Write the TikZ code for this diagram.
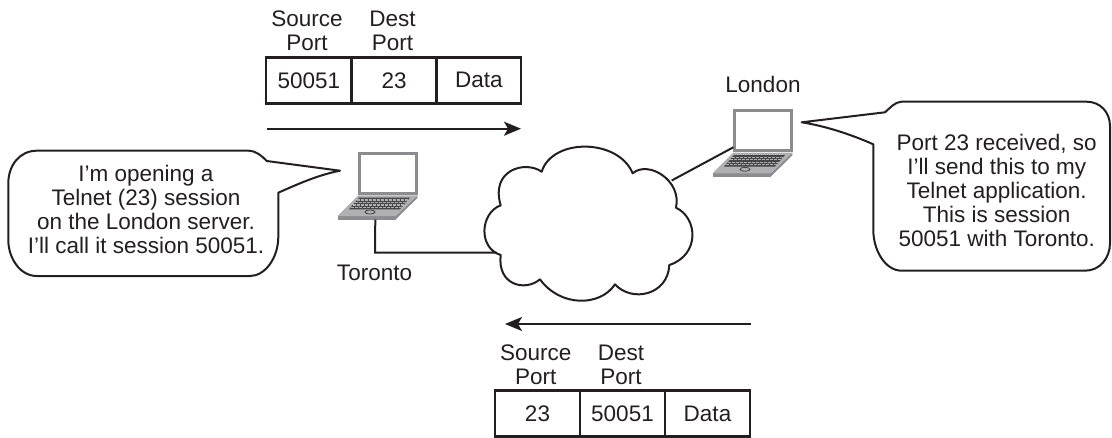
\documentclass[tikz,border=0pt]{standalone}
\usepackage{fontspec}
\setmainfont{Liberation Sans}
\usetikzlibrary{arrows.meta}
\definecolor{ink}{RGB}{35,31,32}
\definecolor{casegrey}{RGB}{140,140,142}
\definecolor{basegrey}{RGB}{176,176,178}
\definecolor{keygrey}{RGB}{70,70,72}
\tikzset{>={Stealth[length=17pt,width=14pt,inset=4pt]}}
\tikzset{
	txt/.style={align=center, inner sep=0pt, text=ink, font=\fontsize{22.5}{24}\selectfont},
	cell/.style={draw=ink, line width=2.5pt, minimum height=46pt, txt},
	link/.style={draw=ink, line width=2pt},
	bubble/.style={draw=ink, line width=2pt, fill=white, line join=round},
	flow/.style={draw=ink, line width=2pt, ->},
	laptop/.pic={
		\filldraw[draw=casegrey, fill=white, line width=3pt](1.5,2.5)--(58.5,2.5)--(58.5,42)--(1.5,42)--cycle;
		\fill[casegrey](-20.7,65)--(37.3,65)--(37.3,68.5)--(-20.7,68.5)--cycle;
		\fill[casegrey](37.3,65)--(59,44.3)--(59,47)--(37.3,68.5)--cycle;
		\fill[basegrey](0,44.3)--(59,44.3)--(37.3,65)--(-20.7,65)--cycle;
		\fill[keygrey](0.7,46.7)--(51.7,46.7)--(41.7,58.3)--(-9.3,58.3)--cycle;
		\draw[basegrey, line width=1.1pt, dash pattern=on 3pt off 1pt](-1.3,49)--(49.7,49);
		\draw[basegrey, line width=1.1pt, dash pattern=on 3pt off 1pt](-3.4,51.5)--(47.6,51.5);
		\draw[basegrey, line width=1.1pt, dash pattern=on 3pt off 1pt](-5.6,54)--(45.4,54);
		\draw[basegrey, line width=1.1pt, dash pattern=on 3pt off 1pt](-7.7,56.5)--(43.3,56.5);
		\draw[keygrey, line width=0.8pt](11.7,61) ellipse (5 and 2);
		\coordinate (-side) at (0,39);
		\coordinate (-foot) at (17,68.5);
	}
}

\begin{document}
\begin{tikzpicture}[x=1pt, y=-1pt]
	\useasboundingbox (0,0) rectangle (1112,437);

	% network
	\draw[bubble](541.7,171.7) .. controls (552,138) and (618,138) .. (632.7,173.3)
		.. controls (648,160) and (682,180) .. (676,207.7)
		.. controls (698,218) and (700,255) .. (669.3,265)
		.. controls (668,295) and (632,303) .. (615,284.3)
		.. controls (600,307) and (560,307) .. (540,279.3)
		.. controls (525,292) and (497,285) .. (500.7,255)
		.. controls (478,248) and (480,213) .. (500.7,205.3)
		.. controls (490,170) and (525,160) .. (541.7,171.7) -- cycle;
	\coordinate (cloudwest) at (496.7,252.5);
	\coordinate (cloudeast) at (671.7,180.5);

	\pic (toronto) at (358.3,151) {laptop};
	\pic (london) at (733.3,108.3) {laptop};
	\coordinate (torontocorner) at (375,252.5);

	\draw[link](toronto-foot)--(torontocorner)--(cloudwest);
	\draw[link](london-side)--(cloudeast);

	\node[txt] (torontolabel) at (374.5,273) {Toronto};
	\node[txt] (londonlabel) at (763,84.5) {London};

	% left speech
	\draw[bubble](266.7,161)--(340,170.7) .. controls (318,175) and (298,184) .. (278.3,192.7)--(278.3,236.7)
		.. controls (278.3,258) and (265,276) .. (250,276)--(36.7,276)
		.. controls (20,276) and (8.3,258) .. (8.3,240)--(8.3,183.3)
		.. controls (8.3,165) and (20,150.7) .. (36.7,150.7)--(248.3,150.7)
		.. controls (256,150.7) and (262,156) .. (266.7,161)--cycle;
	\node[txt] (torontotext) at (146,209) {I'm opening a\\Telnet (23) session\\on the London server.\\I'll call it session 50051.};

	% right speech
	\draw[bubble](801.7,122.3)--(885,112.3) .. controls (890,108) and (895,101.7) .. (901.7,101.7)--(1086.7,101.7)
		.. controls (1100,101.7) and (1110,112) .. (1110,126)--(1110,243)
		.. controls (1110,258) and (1100,270.7) .. (1085,270.7)--(901.7,270.7)
		.. controls (885,270.7) and (873.3,250) .. (873.3,230)--(873.3,144.3)
		.. controls (850,134) and (825,126) .. (801.7,122.3)--cycle;
	\node[txt] (londontext) at (996.7,190.5) {Port 23 received, so\\I'll send this to my\\Telnet application.\\This is session\\50051 with Toronto.};

	% outgoing segment
	\node[txt] (srclabelout) at (307,31) {Source\\Port};
	\node[txt] (dstlabelout) at (392.5,31) {Dest\\Port};
	\node[cell, minimum width=85.7pt] (srcout) at (308.8,80.3) {50051};
	\node[cell, minimum width=85pt] (dstout) at (394.2,80.3) {23};
	\node[cell, minimum width=84.3pt] (dataout) at (478.8,80.3) {Data};
	\coordinate (flowoutstart) at (267,128.7);
	\coordinate (flowoutend) at (521,128.7);
	\draw[flow](flowoutstart)--(flowoutend);

	% returning segment
	\coordinate (flowbackstart) at (750.7,324);
	\coordinate (flowbackend) at (505,324);
	\draw[flow](flowbackstart)--(flowbackend);
	\node[txt] (srclabelback) at (535.7,365) {Source\\Port};
	\node[txt] (dstlabelback) at (621,365) {Dest\\Port};
	\node[cell, minimum width=85pt] (srcback) at (537.5,413.5) {23};
	\node[cell, minimum width=85pt] (dstback) at (622.5,413.5) {50051};
	\node[cell, minimum width=85pt] (databack) at (707.5,413.5) {Data};
\end{tikzpicture}
\end{document}
